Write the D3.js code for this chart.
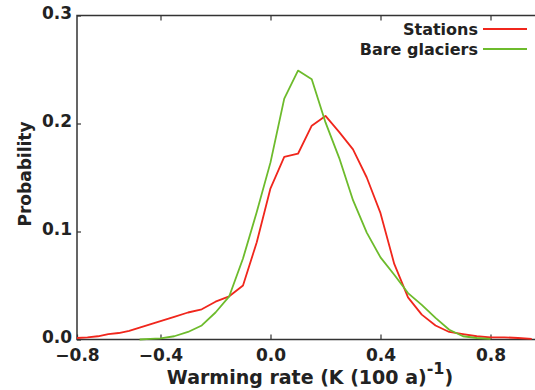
<!DOCTYPE html>
<html>
<head>
<meta charset="utf-8">
<script src="https://cdn.jsdelivr.net/npm/d3@7"></script>
<style>
body { margin:0; background:#fff; }
text { font-family:"DejaVu Sans", sans-serif; font-weight:bold; fill:#222; }
</style>
</head>
<body>
<svg id="chart"></svg>
<script>
// warming rate bins, K (100 a)^-1
var stationRates = [-0.8,-0.75,-0.7,-0.65,-0.6,-0.55,-0.5,-0.45,-0.4,-0.35,-0.3,-0.25,-0.2,-0.15,-0.1,-0.05,
    0.0,0.05,0.1,0.15,0.2,0.25,0.3,0.35,0.4,0.45,0.5,0.55,0.6,0.65,0.7,0.75,0.8,0.85,0.9,0.95];
var stationProb = [0.0014,0.002,0.003,0.005,0.006,0.008,0.011,0.014,0.017,0.021,0.025,0.028,0.035,0.040,0.050,0.090,
    0.140,0.169,0.172,0.198,0.207,0.192,0.176,0.150,0.117,0.070,0.039,0.023,0.013,0.007,0.005,0.003,0.002,0.002,0.0014,0.0005];

var glacierRates = [-0.5,-0.45,-0.4,-0.35,-0.3,-0.25,-0.2,-0.15,-0.1,-0.05,
    0.0,0.05,0.1,0.15,0.2,0.25,0.3,0.35,0.4,0.45,0.5,0.55,0.6,0.65,0.7,0.75,0.8];
var glacierProb = [0,0.0005,0.001,0.003,0.007,0.013,0.025,0.040,0.075,0.118,
    0.164,0.223,0.249,0.241,0.201,0.168,0.129,0.099,0.076,0.060,0.043,0.032,0.020,0.009,0.003,0.0014,0.0005];

var xTicks = [-0.8,-0.4,0.0,0.4,0.8];
var yTicks = [0.0,0.1,0.2,0.3];
var seriesNames = ["Stations","Bare glaciers"];
var seriesColors = ["#f0261c","#6dbb2c"];

var screen = {width:535, height:390};
var margins = {left:77, right:0, top:15.5, bottom:50.5};
var graph = {
    width:screen.width-margins.left-margins.right,
    height:screen.height-margins.top-margins.bottom
};

var svg = d3.select("#chart")
    .attr("width",screen.width)
    .attr("height",screen.height);

var target = svg.append("g")
    .attr("transform","translate("+margins.left+","+margins.top+")");

// the original axis is squeezed left of -0.4
var xScale = d3.scaleLinear()
    .domain([-0.8,-0.4,0.8])
    .range([0,83.5,413.5]);

var yScale = d3.scaleLinear()
    .domain([0,0.3])
    .range([graph.height,0]);

var fmt = d3.format(".1f");

// frame: left, top, bottom
target.append("path")
    .attr("d","M"+graph.width+",0H0V"+graph.height+"H"+graph.width)
    .attr("fill","none")
    .attr("stroke","#333")
    .attr("stroke-width",1.5);

var xAxis = d3.axisBottom(xScale).tickValues(xTicks).tickSize(-5).tickPadding(9).tickFormat(fmt);
var gx = target.append("g")
    .attr("transform","translate(0,"+graph.height+")")
    .call(xAxis);
gx.select(".domain").remove();

var gxTop = target.append("g")
    .call(d3.axisTop(xScale).tickValues(xTicks.slice(1)).tickSize(-5).tickFormat(""));
gxTop.select(".domain").remove();

var yAxis = d3.axisLeft(yScale).tickValues(yTicks).tickSize(-4).tickPadding(5).tickFormat(fmt);
var gy = target.append("g").call(yAxis);
gy.select(".domain").remove();
gy.selectAll(".tick text").attr("dy","0.2em");

target.selectAll(".tick line").attr("stroke","#333").attr("stroke-width",1.2);
target.selectAll(".tick text")
    .style("font-size","17px")
    .style("font-family","'DejaVu Sans', sans-serif")
    .style("font-weight","bold")
    .attr("fill","#222");

var line = d3.line()
    .x(function(d){ return xScale(d[0]); })
    .y(function(d){ return yScale(d[1]); });

var series = [
    d3.zip(stationRates,stationProb),
    d3.zip(glacierRates,glacierProb)
];

target.selectAll(".curve")
    .data(series)
    .enter()
    .append("path")
    .attr("class","curve")
    .attr("d",line)
    .attr("fill","none")
    .attr("stroke",function(d,i){ return seriesColors[i]; })
    .attr("stroke-width",1.8)
    .attr("stroke-linejoin","round");

// legend
var legend = svg.append("g");
seriesNames.forEach(function(name,i)
{
    var y = 29 + i*20;
    legend.append("text")
        .text(name)
        .attr("x",478)
        .attr("y",y+6)
        .attr("text-anchor","end")
        .style("font-size","16px");
    legend.append("line")
        .attr("x1",483).attr("x2",527)
        .attr("y1",y).attr("y2",y)
        .attr("stroke",seriesColors[i])
        .attr("stroke-width",1.8);
});

// axis titles
var xt = svg.append("text")
    .attr("x",310)
    .attr("y",384)
    .attr("text-anchor","middle")
    .style("font-size","19px");
xt.append("tspan").text("Warming rate (K (100 a)");
xt.append("tspan").text("-1").attr("dy",-10).style("font-size","16px");
xt.append("tspan").text(")").attr("dy",10);

svg.append("g")
    .attr("transform","translate(31,174)")
    .append("text")
    .text("Probability")
    .attr("text-anchor","middle")
    .attr("transform","rotate(270)")
    .style("font-size","17px");
</script>
</body>
</html>
